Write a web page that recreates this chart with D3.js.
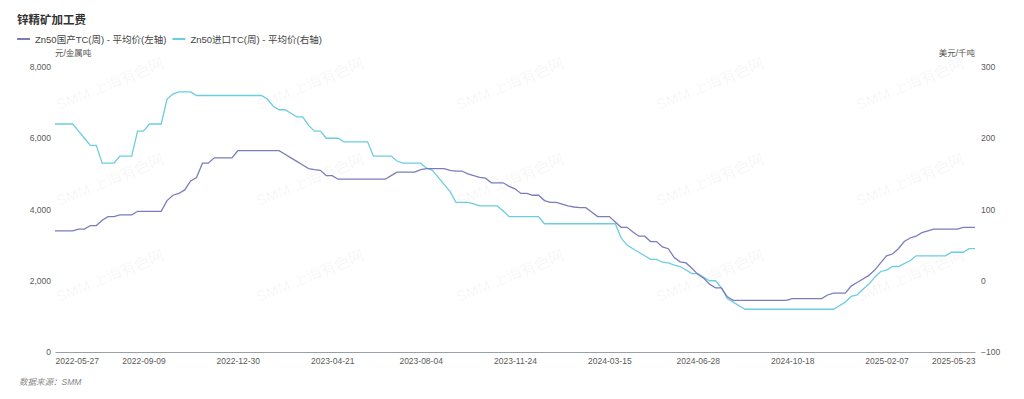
<!DOCTYPE html>
<html lang="zh">
<head>
    <meta charset="UTF-8">
    <title>锌精矿加工费</title>
    <style>
        body {
            margin: 0;
            background-color: #ffffff;
            font-family: "Liberation Sans", "Noto Sans CJK SC", sans-serif;
        }
        svg { display: block; }
        .tick text { fill: #5a5a5a; }
    </style>
</head>
<body>
    <svg width="1024" height="399"></svg>

    <script src="https://d3js.org/d3.v7.min.js"></script>
    <script>
        // weekly series, first week 2022-05-27
        const startDate = "2022-05-27";

        // Zn50国产TC(周) - 平均价, 元/金属吨 (left axis)
        const domesticTC = [
            3400, 3400, 3400, 3400, 3450, 3450, 3550, 3550, 3700, 3800,
            3800, 3850, 3850, 3850, 3950, 3950, 3950, 3950, 3950, 4250,
            4400, 4450, 4550, 4800, 4900, 5300, 5300, 5450, 5450, 5450,
            5450, 5650, 5650, 5650, 5650, 5650, 5650, 5650, 5650, 5550,
            5450, 5350, 5250, 5150, 5120, 5100, 4950, 4950, 4850, 4850,
            4850, 4850, 4850, 4850, 4850, 4850, 4850, 4950, 5050, 5050,
            5050, 5050, 5120, 5150, 5150, 5150, 5150, 5100, 5080, 5080,
            5000, 4950, 4900, 4880, 4750, 4750, 4750, 4650, 4580, 4450,
            4450, 4400, 4400, 4250, 4200, 4200, 4150, 4100, 4070, 4050,
            4050, 3930, 3800, 3800, 3800, 3650, 3500, 3500, 3370, 3250,
            3250, 3100, 3100, 2950, 2900, 2650, 2530, 2500, 2350, 2180,
            2070, 1900, 1800, 1800, 1550, 1450, 1450, 1450, 1450, 1450,
            1450, 1450, 1450, 1450, 1450, 1500, 1500, 1500, 1500, 1500,
            1500, 1600, 1650, 1650, 1650, 1850, 1950, 2050, 2150, 2300,
            2500, 2700, 2750, 2900, 3100, 3200, 3250, 3350, 3400, 3450,
            3450, 3450, 3450, 3450, 3500, 3500, 3500
        ];

        // Zn50进口TC(周) - 平均价, 美元/千吨 (right axis)
        const importTC = [
            220, 220, 220, 220, 210, 200, 190, 190, 165, 165,
            165, 175, 175, 175, 210, 210, 220, 220, 220, 255,
            262, 265, 265, 265, 260, 260, 260, 260, 260, 260,
            260, 260, 260, 260, 260, 260, 255, 245, 240, 240,
            235, 230, 230, 218, 210, 210, 200, 200, 200, 195,
            195, 195, 195, 195, 175, 175, 175, 175, 168, 165,
            165, 165, 165, 158, 155, 145, 135, 125, 110, 110,
            110, 108, 105, 105, 105, 105, 98, 90, 90, 90,
            90, 90, 90, 80, 80, 80, 80, 80, 80, 80,
            80, 80, 80, 80, 80, 80, 60, 50, 45, 40,
            35, 30, 30, 26, 25, 22, 20, 15, 10, 10,
            5, 0, 0, -10, -25, -30, -35, -40, -40, -40,
            -40, -40, -40, -40, -40, -40, -40, -40, -40, -40,
            -40, -40, -40, -35, -30, -22, -20, -12, -5, 5,
            13, 15, 20, 20, 24, 28, 35, 35, 35, 35,
            35, 35, 40, 40, 40, 45, 45
        ];

        const xTickLabels = ["2022-05-27", "2022-09-09", "2022-12-30", "2023-04-21", "2023-08-04",
            "2023-11-24", "2024-03-15", "2024-06-28", "2024-10-18", "2025-02-07", "2025-05-23"];
        const leftTicks = [0, 2000, 4000, 6000, 8000];
        const rightTicks = [-100, 0, 100, 200, 300];
        const seriesNames = ["Zn50国产TC(周) - 平均价(左轴)", "Zn50进口TC(周) - 平均价(右轴)"];
        const seriesColors = ["#7a7dbb", "#6ccddf"];

        const margin = { top: 67, right: 49, bottom: 47, left: 55 };
        const W = 1024, H = 399;
        const svg = d3.select("svg");

        const parse = d3.utcParse("%Y-%m-%d");
        const t0 = parse(startDate);
        const dates = domesticTC.map((_, i) => d3.utcDay.offset(t0, 7 * i));

        const x = d3.scaleUtc()
            .domain([dates[0], dates[dates.length - 1]])
            .range([margin.left, W - margin.right]);
        const yL = d3.scaleLinear().domain([0, 8000]).range([H - margin.bottom, margin.top]);
        const yR = d3.scaleLinear().domain([-100, 300]).range([H - margin.bottom, margin.top]);

        // watermark
        const wm = svg.append("g").attr("pointer-events", "none");
        for (let r = 0; r < 3; r++) {
            for (let c = 0; c < 5; c++) {
                wm.append("text")
                    .attr("transform", `translate(${110 + c * 200},${84 + r * 96}) rotate(-22)`)
                    .attr("text-anchor", "middle")
                    .attr("dy", "0.35em")
                    .attr("font-size", 15)
                    .attr("fill", "#000")
                    .attr("fill-opacity", 0.055)
                    .text("SMM 上海有色网");
            }
        }

        // title + legend
        svg.append("text")
            .attr("x", 17).attr("y", 24)
            .attr("font-size", 11.5).attr("font-weight", "bold").attr("fill", "#333")
            .text("锌精矿加工费");

        let lx = 17;
        seriesNames.forEach((name, i) => {
            svg.append("line")
                .attr("x1", lx).attr("x2", lx + 13)
                .attr("y1", 39).attr("y2", 39)
                .attr("stroke", seriesColors[i]).attr("stroke-width", 2);
            const t = svg.append("text")
                .attr("x", lx + 18).attr("y", 42.5)
                .attr("font-size", 9.5).attr("fill", "#444")
                .text(name);
            lx += 18 + t.node().getComputedTextLength() + 6;
        });

        // axis units
        svg.append("text")
            .attr("x", margin.left).attr("y", 56)
            .attr("font-size", 8.5).attr("fill", "#555")
            .text("元/金属吨");
        svg.append("text")
            .attr("x", W - margin.right).attr("y", 56)
            .attr("text-anchor", "end")
            .attr("font-size", 8.5).attr("fill", "#555")
            .text("美元/千吨");

        // left axis
        const gL = svg.append("g")
            .attr("transform", `translate(${margin.left},0)`)
            .call(d3.axisLeft(yL).tickValues(leftTicks).tickSize(0).tickPadding(4).tickFormat(d3.format(",")));
        gL.select(".domain").remove();
        gL.selectAll("text").attr("font-size", 8.5).attr("font-family", null);

        // right axis
        const gR = svg.append("g")
            .attr("transform", `translate(${W - margin.right},0)`)
            .call(d3.axisRight(yR).tickValues(rightTicks).tickSize(0).tickPadding(6));
        gR.select(".domain").remove();
        gR.selectAll("text").attr("font-size", 8.5).attr("font-family", null);

        // bottom axis
        const gB = svg.append("g")
            .attr("transform", `translate(0,${H - margin.bottom})`)
            .call(d3.axisBottom(x).tickValues(xTickLabels.map(parse)).tickSize(0).tickPadding(6)
                .tickFormat(d3.utcFormat("%Y-%m-%d")));
        gB.select(".domain").attr("stroke", "#9aa0a8");
        gB.selectAll("text").attr("font-size", 8.5).attr("font-family", null);
        gB.selectAll(".tick text")
            .attr("text-anchor", (d, i, n) => i === 0 ? "start" : (i === n.length - 1 ? "end" : "middle"));

        // lines
        const lineL = d3.line().x((d, i) => x(dates[i])).y(d => yL(d));
        const lineR = d3.line().x((d, i) => x(dates[i])).y(d => yR(d));

        svg.append("path")
            .datum(importTC)
            .attr("fill", "none")
            .attr("stroke", seriesColors[1])
            .attr("stroke-width", 1.3)
            .attr("d", lineR);

        svg.append("path")
            .datum(domesticTC)
            .attr("fill", "none")
            .attr("stroke", seriesColors[0])
            .attr("stroke-width", 1.3)
            .attr("d", lineL);

        // source note
        svg.append("text")
            .attr("x", 19).attr("y", 385)
            .attr("font-size", 8.5).attr("font-style", "italic").attr("fill", "#888")
            .text("数据来源：SMM");
    </script>
</body>
</html>
